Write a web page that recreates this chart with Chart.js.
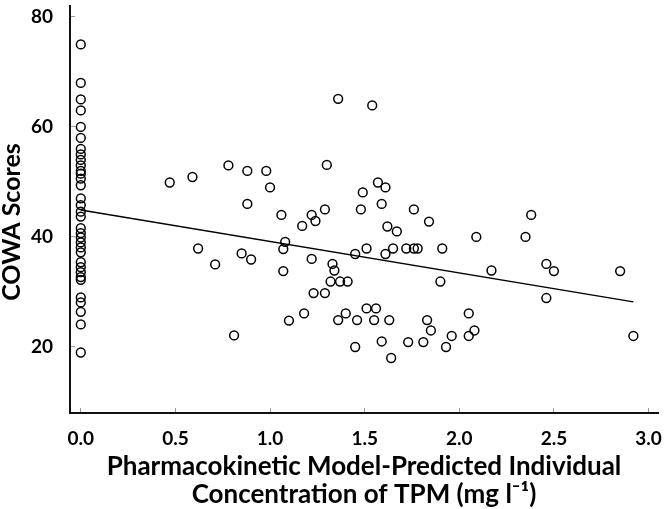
<!DOCTYPE html>
<html>
<head>
<meta charset="utf-8">
<script src="https://cdn.jsdelivr.net/npm/chart.js@4.4.1/dist/chart.umd.min.js"></script>
<style>
  html, body { margin: 0; padding: 0; background: #fff; }
  #wrap { width: 664px; height: 509px; }
</style>
</head>
<body>
<div id="wrap"><canvas id="cowaChart" width="664" height="509"></canvas></div>
<script>
// subjects with no drug (concentration 0)
const zeroScores = [75, 68, 65, 63, 60, 58, 56, 55, 54, 53, 52, 51.5, 50.6, 49.4,
    47, 45.8, 44.6, 43.7, 41.6, 40.7, 39.9, 39, 38.1, 37.2, 35.4, 34.5, 33.6,
    32.7, 32.2, 29, 28.1, 26.4, 24.1, 19];

// predicted concentration (mg/l) and COWA score for treated subjects
const concX = [0.47, 0.59, 0.78, 0.88, 0.98, 1.00, 0.88, 1.06, 1.22, 1.29, 1.24, 1.17,
    1.30, 0.62, 0.71, 0.85, 0.90, 1.08, 1.07, 1.07, 1.22, 1.23, 1.29, 1.18, 1.10,
    0.81, 1.36, 1.54, 1.57, 1.61, 1.49, 1.59, 1.48, 1.76, 1.84, 1.62, 1.67, 2.09,
    1.45, 1.51, 1.61, 1.65, 1.72, 1.76, 1.78, 1.91, 1.33, 1.34, 1.32, 1.37, 1.41,
    2.17, 1.90, 1.40, 1.36, 1.46, 1.51, 1.56, 1.55, 1.63, 1.83, 2.05, 1.85, 2.08,
    2.05, 1.96, 1.59, 1.73, 1.81, 1.45, 1.93, 1.64, 2.38, 2.35, 2.46, 2.50, 2.85,
    2.46, 2.92];
const concY = [49.9, 50.9, 53.0, 52.0, 52.0, 49.0, 46.0, 44.0, 44.0, 45.0, 42.9, 42.0,
    53.1, 37.9, 35.0, 37.0, 35.9, 39.1, 37.8, 33.8, 36.0, 29.8, 29.8, 26.1, 24.8,
    22.1, 65.1, 63.9, 49.9, 49.0, 48.1, 46.0, 45.0, 45.0, 42.8, 41.9, 41.0, 40.0,
    36.9, 37.9, 36.9, 37.9, 37.9, 37.9, 37.9, 37.9, 35.1, 33.9, 31.9, 31.9, 31.9,
    33.9, 31.9, 26.1, 24.9, 24.9, 27.0, 27.0, 24.9, 24.9, 24.9, 26.1, 23.0, 23.0,
    22.0, 22.0, 21.0, 20.9, 20.9, 20.0, 20.0, 18.0, 44.0, 40.0, 35.1, 33.8, 33.8,
    28.9, 22.0];

// fitted regression line end points
const fitX = [0, 2.92];
const fitY = [44.9, 28.2];

const xTicks = [0, 0.5, 1, 1.5, 2, 2.5, 3];
const yTicks = [20, 40, 60, 80];

const xTitle = ["Pharmacokinetic Model-Predicted Individual", "Concentration of TPM (mg l\u207B\u00B9)"];
const yTitle = "COWA Scores";

let points = zeroScores.map(s => ({ x: 0, y: s }));
concX.forEach((c, i) => points.push({ x: c, y: concY[i] }));
let fitLine = fitX.map((v, i) => ({ x: v, y: fitY[i] }));

const fontFam = "Lato, 'Open Sans', sans-serif";

const yTitlePlugin = {
    id: "yTitle",
    afterDraw(chart) {
        let ctx = chart.ctx;
        ctx.save();
        ctx.translate(12, 222);
        ctx.rotate(-Math.PI / 2);
        ctx.font = "bold 25px " + fontFam;
        ctx.fillStyle = "#000";
        ctx.textAlign = "center";
        ctx.textBaseline = "middle";
        ctx.fillText(yTitle, 0, 0);
        ctx.restore();
    }
};

new Chart(document.getElementById("cowaChart"), {
    type: "scatter",
    data: {
        datasets: [{
            data: points,
            pointStyle: "circle",
            pointRadius: 4.4,
            borderWidth: 1.5,
            borderColor: "#000",
            backgroundColor: "rgba(0,0,0,0)"
        }, {
            type: "line",
            data: fitLine,
            borderColor: "#000",
            borderWidth: 1.5,
            pointRadius: 0,
            fill: false
        }]
    },
    options: {
        responsive: false,
        devicePixelRatio: 1,
        animation: false,
        events: [],
        layout: { padding: { top: 0, right: 6, left: 0, bottom: 0 } },
        plugins: {
            legend: { display: false },
            tooltip: { enabled: false }
        },
        scales: {
            x: {
                type: "linear",
                min: -0.057,
                max: 3.05,
                afterFit: s => {
                    s.height = 96;
                    s.paddingLeft = 0;
                    s.paddingRight = 0;
                },
                afterBuildTicks: s => { s.ticks = xTicks.map(v => ({ value: v })); },
                border: { color: "#111", width: 2 },
                grid: { drawOnChartArea: false, drawTicks: true, tickLength: -5, color: "#999", lineWidth: 1 },
                ticks: {
                    padding: 19,
                    color: "#000",
                    font: { family: fontFam, size: 19, weight: "bold" },
                    callback: v => v.toFixed(1)
                },
                title: {
                    display: true,
                    text: xTitle,
                    color: "#000",
                    font: { family: fontFam, size: 26, weight: "bold", lineHeight: 1.05 },
                    padding: { top: 0, bottom: 1 }
                }
            },
            y: {
                type: "linear",
                min: 8,
                max: 82,
                afterFit: s => {
                    s.width = 70;
                    s.paddingTop = 0;
                    s.paddingBottom = 0;
                },
                afterBuildTicks: s => { s.ticks = yTicks.map(v => ({ value: v })); },
                border: { color: "#111", width: 2 },
                grid: { drawOnChartArea: false, drawTicks: true, tickLength: -5, color: "#999", lineWidth: 1 },
                ticks: {
                    padding: 22,
                    color: "#000",
                    font: { family: fontFam, size: 19, weight: "bold" }
                }
            }
        }
    },
    plugins: [yTitlePlugin]
});
</script>
</body>
</html>
